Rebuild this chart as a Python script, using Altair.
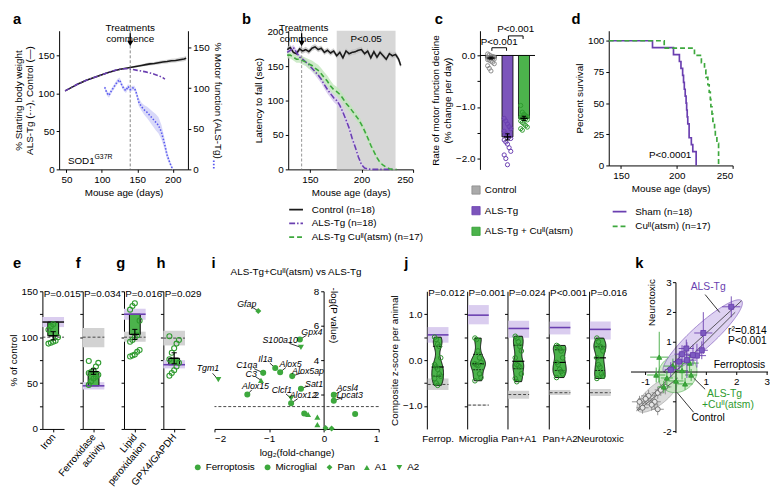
import altair as alt
import numpy as np
import pandas as pd

FONT = "Liberation Sans"
PURPLE = "#6a3fb0"
PURPLE_BAR = "#7c55bb"
PURPLE_BAND = "#dacdef"
GREEN = "#3da83d"
GREEN_DARK = "#2e9a2e"
GREEN_BAND = "#c2e6bb"
GREY_BAR = "#aaaaaa"
GREY_BAND = "#d2d2d2"
BLUE = "#5a5af0"
BLUE_BAND = "#cfcff7"
INK = "#1a1a1a"
CU = "Cu\u1d35\u1d35(atsm)"

# ---------------- panel a ----------------
a_ctrl_age = [48, 54, 60, 66, 72, 78, 84, 90, 96, 102, 108, 114, 120, 126, 132, 138, 144, 150, 156, 162, 168, 174, 180, 186, 192, 198, 204, 210, 216, 219]
a_ctrl_bw = [103, 106, 109, 112, 114.5, 117, 119, 121, 123, 125, 127, 128.5, 130, 131.5, 132.5, 133.5, 134.5, 135.5, 136.5, 137.5, 138.5, 139, 140, 141, 141.5, 142.5, 143, 144, 145, 146]
a_ctrl_sem = [0.8, 0.8, 0.8, 0.8, 0.8, 0.8, 0.8, 0.8, 0.8, 0.8, 0.8, 0.8, 0.8, 0.8, 0.8, 0.8, 1.2, 1.4, 1.6, 1.8, 2, 2.1, 2.2, 2.4, 2.5, 2.6, 2.7, 2.8, 3, 3]
a_als_age = [48, 54, 60, 66, 72, 78, 84, 90, 96, 102, 108, 114, 120, 126, 132, 138, 144, 150, 156, 162, 168, 174, 180, 186, 189]
a_als_bw = [103, 106, 109, 112, 114.5, 117, 119, 121, 123, 125, 127, 129, 130.5, 131.5, 132, 132, 131, 130, 129, 128, 126.5, 125, 123, 120.5, 118.5]
a_mot_age = [104, 107, 110, 113, 116, 119, 122, 125, 128, 131, 134, 137, 140, 143, 146, 149, 152, 156, 160, 164, 168, 172, 176, 180, 184, 188, 192, 196, 200]
a_mot = [101, 94, 91, 96, 100, 104, 108, 110, 104, 99, 97, 102, 98, 100, 100, 93, 83, 77, 73, 70, 66, 62, 58, 54, 46, 33, 18, 8, 0]
a_mot_sem = [2, 3, 3, 3, 3, 3, 3, 3, 3, 3, 3, 3, 3, 3, 3, 4, 5, 5, 6, 7, 8, 9, 10, 10, 9, 7, 5, 3, 1]

# ---------------- panel b ----------------
b_series = ["Control (n=18)", "ALS-Tg (n=18)", "ALS-Tg " + CU + " (n=17)"]
b_ctrl_age = [128, 131, 134, 137, 140, 143, 146, 149, 152, 155, 158, 161, 164, 167, 170, 173, 176, 179, 182, 185, 188, 191, 194, 197, 200, 203, 206, 209, 212, 215, 218, 221, 224, 227, 230, 233, 236, 238]
b_ctrl = [174, 177, 170, 168, 175, 172, 174, 171, 176, 178, 174, 176, 170, 173, 169, 172, 165, 170, 162, 172, 168, 170, 171, 173, 174, 168, 172, 162, 171, 163, 170, 165, 160, 168, 165, 167, 160, 151]
b_ctrl_sem = [4, 4, 4, 4, 4, 4, 4, 4, 4, 4, 4, 4, 4, 4, 4, 4, 4, 4, 4, 4, 4, 4, 4, 4, 4, 4, 4, 4, 4, 4, 4, 4, 4, 4, 4, 4, 4, 4]
b_als_age = [128, 131, 134, 137, 140, 143, 146, 149, 152, 155, 158, 161, 164, 167, 170, 173, 176, 179, 182, 185, 188, 191, 194, 197, 200, 203, 206, 210, 215, 220, 225, 230]
b_als = [170, 173, 177, 170, 163, 160, 156, 152, 147, 142, 137, 131, 123, 116, 110, 104, 100, 93, 83, 72, 60, 45, 32, 18, 7, 2, 0.5, 0, 0, 0, 0, 0]
b_als_sem = [4, 4, 4, 4, 4, 4, 5, 5, 5, 5, 6, 6, 6, 6, 6, 6, 6, 6, 6, 6, 5, 5, 4, 4, 3, 2, 1, 0.5, 0, 0, 0, 0]
b_cu_age = [128, 131, 134, 137, 140, 143, 146, 149, 152, 155, 158, 161, 164, 167, 170, 173, 176, 179, 182, 185, 188, 191, 194, 197, 200, 203, 206, 209, 212, 215, 218, 221, 224, 227, 230, 234]
b_cu = [166, 166, 163, 160, 160, 158, 156, 153, 151, 147, 144, 139, 133, 128, 121, 116, 113, 109, 103, 96, 91, 85, 79, 73, 65, 56, 46, 35, 26, 17, 10, 6, 3, 1, 0, 0]
b_cu_sem = [5, 5, 5, 5, 5, 6, 6, 7, 7, 8, 8, 8, 8, 8, 8, 7, 7, 7, 7, 7, 7, 6, 6, 6, 6, 6, 5, 5, 4, 3, 3, 2, 1, 1, 0, 0]

# ---------------- panel c ----------------
c_cats = ["Control", "ALS-Tg", "ALS-Tg + " + CU]
c_means = [-0.05, -1.58, -1.22]
c_sems = [0.02, 0.06, 0.04]
c_pts = [
    [0.03, 0.01, -0.01, -0.02, -0.03, -0.04, -0.05, -0.05, -0.06, -0.07, -0.08, -0.09, -0.11, -0.13, -0.16, -0.2, -0.25, -0.3],
    [-1.22, -1.27, -1.33, -1.38, -1.42, -1.47, -1.52, -1.55, -1.58, -1.61, -1.64, -1.68, -1.72, -1.79, -1.86, -1.93, -2.0, -2.12],
    [-0.97, -1.1, -1.14, -1.17, -1.19, -1.2, -1.21, -1.22, -1.23, -1.25, -1.27, -1.3, -1.33, -1.36, -1.39, -1.42, -1.45],
]

# ---------------- panel d ----------------
d_series = ["Sham (n=18)", CU + " (n=17)"]
d_sham_death = [178.2, 197, 202.3, 203.7, 205.2, 206, 206.7, 207.5, 208.3, 208.8, 209.3, 209.8, 211, 211, 213, 214.3, 217.3, 217.3]
d_cu_death = [188.7, 215.8, 222, 224.8, 226, 227.8, 229, 230, 230.5, 231.5, 232.3, 233.8, 234.5, 235.9, 237.4, 237.4, 237.4]

# ---------------- panels e-h ----------------
eh_letters = ["e", "f", "g", "h"]
eh_labels = [["Iron"], ["Ferroxidase", "activity"], ["Lipid", "peroxidation"], ["GPX4/GAPDH"]]
eh_p = ["P=0.015", "P=0.034", "P=0.016", "P=0.029"]
eh_purple = [116.5, 47, 125, 70]
eh_purple_lo = [111, 43, 119, 66]
eh_purple_hi = [122, 51, 131, 75]
eh_grey_lo = [None, 89, 95, 91]
eh_grey_hi = [None, 110, 106, 107]
eh_ctrl = [100, 100, 100, 99]
eh_bar_lo = [101.5, 47, 103, 70]
eh_bar_hi = [116.5, 62.5, 125, 77]
eh_mean = [101.5, 62.5, 103, 77]
eh_sem = [4.5, 3, 5.5, 6]
eh_pts = [
    [93, 94, 95, 96, 100, 108, 112, 114],
    [48, 52, 55, 57, 59, 61, 62, 64, 68, 72, 74],
    [79, 80, 81, 84, 86, 95, 97, 100, 102, 118, 130, 134, 137],
    [58, 61, 64, 68, 72, 76, 83, 88, 93, 97, 101],
]

# ---------------- panel i ----------------
i_cats = ["Ferroptosis", "Microglial", "Pan", "A1", "A2"]
i_names = ["Gfap", "Gpx4", "S100a10", "Il1a", "C1qa", "C3", "Alox5", "Alox5ap", "Tgm1", "Alox15", "Sat1", "Clcf1", "Alox12", "Acsl4", "Lpcat3", "", "", "", "", "", "", ""]
i_fc = [-1.2, -0.44, -0.42, -0.89, -1.11, -1.15, -0.8, -0.58, -1.93, -1.4, -0.42, -0.6, -0.6, 0.18, 0.18, -0.36, -0.29, -0.12, -0.12, 0.57, 0.03, 0.14]
i_p = [6.86, 5.2, 4.74, 3.54, 3.26, 2.83, 3.3, 3.07, 2.86, 2.0, 2.34, 1.77, 1.49, 1.98, 1.64, 0.9, 0.84, 0.69, 0.25, 0.87, 0.05, 0.03]
i_cat = ["Pan", "Ferroptosis", "A2", "Microglial", "Microglial", "A1", "Ferroptosis", "Ferroptosis", "A2", "Ferroptosis", "Ferroptosis", "A2", "Ferroptosis", "Ferroptosis", "Ferroptosis", "Ferroptosis", "A1", "A1", "A1", "Ferroptosis", "Pan", "Pan"]
i_lab_x = [-1.41, -0.22, -0.8, -1.07, -1.41, -1.33, -0.61, -0.29, -2.12, -1.25, -0.18, -0.77, -0.38, 0.43, 0.47]
i_lab_y = [7.26, 5.64, 5.16, 4.07, 3.7, 3.2, 3.79, 3.39, 3.54, 2.5, 2.63, 2.25, 1.98, 2.4, 1.98]

# ---------------- panel j ----------------
j_names = ["Ferrop.", "Microglia", "Pan+A1", "Pan+A2", "Neurotoxic"]
j_p = ["P=0.012", "P=0.001", "P=0.024", "P<0.001", "P=0.016"]
j_purple = [0.55, 0.98, 0.69, 0.71, 0.67]
j_purple_lo = [0.38, 0.78, 0.49, 0.56, 0.45]
j_purple_hi = [0.72, 1.2, 0.86, 0.84, 0.84]
j_grey = [-0.53, -0.98, -0.75, -0.71, -0.71]
j_grey_lo = [-0.65, -0.99, -0.84, -0.76, -0.78]
j_grey_hi = [-0.40, -0.97, -0.67, -0.65, -0.63]
j_vals = [
    [0.5, 0.45, 0.35, 0.3, 0.05, -0.1, -0.15, -0.2, -0.3, -0.35, -0.4, -0.5, -0.55],
    [0.48, 0.45, 0.2, 0.05, -0.05, -0.08, -0.1, -0.12, -0.3, -0.38, -0.45],
    [0.52, 0.48, 0.4, 0.3, 0.2, 0.05, -0.1, -0.12, -0.15, -0.3, -0.4, -0.47],
    [0.32, 0.3, 0.25, 0.2, 0.05, -0.05, -0.1, -0.2, -0.25, -0.3, -0.38],
    [0.48, 0.4, 0.3, 0.28, 0.2, 0.05, -0.1, -0.15, -0.3, -0.35, -0.4],
]

# ---------------- panel k ----------------
k_als_x = [1.82, 0.9, 0.34, 0.69, 0.85, 0.56, 0.36, 0.1, -0.17, 0.2]
k_als_y = [2.19, 1.31, 0.79, 0.55, 0.73, 0.57, 0.4, 0.35, 0.08, 0.6]
k_als_xe = [0.3, 0.3, 0.25, 0.3, 0.2, 0.25, 0.3, 0.2, 0.2, 0.25]
k_als_ye = [0.35, 0.7, 0.3, 0.4, 0.3, 0.35, 0.6, 0.3, 0.25, 0.3]
k_cu_x = [-0.55, -0.3, 0.45, 0.3, -0.1, 0.2, -0.4, 0.0, -0.65, 0.5]
k_cu_y = [0.5, -0.2, 0.3, -0.4, 0.2, 0.05, -0.5, -0.3, -0.1, -0.1]
k_cu_xe = [0.3, 0.2, 0.3, 0.25, 0.3, 0.2, 0.2, 0.25, 0.3, 0.2]
k_cu_ye = [0.85, 0.25, 0.3, 0.2, 0.25, 0.3, 0.2, 0.3, 0.25, 0.2]
k_ctrl_x = [-1.1, -0.9, -0.7, -0.6, -1.0, -0.8, -0.5, -0.35, -1.2, -0.6]
k_ctrl_y = [-1.2, -0.8, -1.0, -0.7, -0.9, -1.1, -0.6, -0.5, -1.0, -1.25]
k_ctrl_xe = [0.2, 0.25, 0.2, 0.2, 0.25, 0.2, 0.2, 0.2, 0.25, 0.2]
k_ctrl_ye = [0.2, 0.2, 0.25, 0.2, 0.2, 0.2, 0.2, 0.25, 0.2, 0.2]
k_ell_cx = [-0.6, 0.05, 0.88]
k_ell_cy = [-0.75, -0.05, 1.2]
k_ell_a = [0.85, 0.68, 1.75]
k_ell_b = [0.33, 0.6, 0.38]
k_ell_ang = [40, 45, 43]

RES = dict(color="independent", stroke="independent", strokeDash="independent", shape="independent", size="independent")


# ================= helpers =================
def Xq(field, sc, ax):
    return alt.X(field, type="quantitative", scale=sc, axis=ax)


def Yq(field, sc, ax):
    return alt.Y(field, type="quantitative", scale=sc, axis=ax)


def letter(t, dx, dy):
    return alt.Chart(pd.DataFrame({"t": [t]})).mark_text(
        fontSize=15, fontWeight="bold", align="left", baseline="alphabetic", font=FONT, color="black"
    ).encode(text="t:N", x=alt.value(dx), y=alt.value(dy))


def spacer(w):
    return alt.Chart(pd.DataFrame({"z": [0]})).mark_point(opacity=0).encode(
        x=alt.X("z:Q", axis=None), y=alt.Y("z:Q", axis=None)).properties(width=w, height=10)


def row(charts, gaps, lead=None):
    items = [] if lead is None else [spacer(lead)]
    items.append(charts[0])
    for c, g in zip(charts[1:], gaps):
        items += [spacer(g), c]
    return alt.hconcat(*items, spacing=0, bounds="flush").resolve_scale(**RES).resolve_legend(
        color="independent", strokeDash="independent", shape="independent", size="independent", stroke="independent")


def band_df(age, v, s):
    d = pd.DataFrame({"age": age, "v": v, "s": s})
    d["lo"] = d.v - d.s
    d["hi"] = d.v + d.s
    return d


TOP_DY = -7
BOT_DY = -24

# ================= panel a =================
sax = alt.Scale(domain=[39.6, 221.5], nice=False, zero=False)
aax = alt.Axis(values=[50, 100, 150, 200], title="Mouse age (days)", titlePadding=4)
sal = alt.Scale(domain=[0, 182], nice=False, zero=False)
aal = alt.Axis(values=[0, 50, 100, 150], orient="left",
               title=["% Starting body weight", "ALS-Tg (-\u00b7-), Control (\u2014)"], titlePadding=3)
sar = alt.Scale(domain=[0, 170.5], nice=False, zero=False)
aar = alt.Axis(values=[0, 50, 100, 150], orient="right", title="% Motor function (ALS-Tg)", titlePadding=3)

da_c = band_df(a_ctrl_age, a_ctrl_bw, a_ctrl_sem)
da_a = pd.DataFrame({"age": a_als_age, "v": a_als_bw})
da_m = band_df(a_mot_age, a_mot, a_mot_sem)
ann_a = pd.DataFrame({"age": [140], "v": [179.4], "t": ["Treatments\ncommence"], "v1": [178.8], "v2": [167.2], "vh": [165.4]})
sod = pd.DataFrame({"age": [52], "v": [11]})

left_a = alt.layer(
    alt.Chart(da_c).mark_area(color=GREY_BAND).encode(x=Xq("age", sax, aax), y=Yq("lo", sal, aal), y2="hi"),
    alt.Chart(da_c).mark_line(color=INK, strokeWidth=1.6).encode(x=Xq("age", sax, aax), y=Yq("v", sal, aal)),
    alt.Chart(da_a).mark_line(color=PURPLE, strokeWidth=1.6, strokeDash=[5, 2, 1.5, 2]).encode(x=Xq("age", sax, aax), y=Yq("v", sal, aal)),
    alt.Chart(ann_a).mark_rule(color="#666", strokeDash=[3, 2], strokeWidth=0.8).encode(x=Xq("age", sax, aax)),
    alt.Chart(ann_a).mark_text(lineBreak="\n", baseline="bottom", fontSize=10, lineHeight=11).encode(
        x=Xq("age", sax, aax), y=Yq("v", sal, aal), text="t"),
    alt.Chart(ann_a).mark_rule(color="black", strokeWidth=1.3).encode(x=Xq("age", sax, aax), y=Yq("v1", sal, aal), y2="v2"),
    alt.Chart(ann_a).mark_point(shape="triangle-down", filled=True, size=40, color="black", opacity=1).encode(
        x=Xq("age", sax, aax), y=Yq("vh", sal, aal)),
    alt.Chart(sod).mark_text(text="SOD1", align="left", baseline="middle", fontSize=10).encode(
        x=Xq("age", sax, aax), y=Yq("v", sal, aal)),
    alt.Chart(sod).mark_text(text="G37R", align="left", baseline="middle", fontSize=7, dx=27, dy=-4).encode(
        x=Xq("age", sax, aax), y=Yq("v", sal, aal)),
    letter("a", -47, TOP_DY),
)
glyph = pd.DataFrame({"age": [258], "v1": [1], "v2": [13]})
right_a = alt.layer(
    alt.Chart(da_m).mark_area(color=BLUE_BAND, opacity=0.8).encode(x=Xq("age", sax, aax), y=Yq("lo", sar, aar), y2="hi"),
    alt.Chart(da_m).mark_line(color=BLUE, strokeWidth=1.6, strokeDash=[1.5, 1.8]).encode(x=Xq("age", sax, aax), y=Yq("v", sar, aar)),
    alt.Chart(glyph).mark_rule(color=BLUE, strokeWidth=1.8, strokeDash=[1.5, 1.8]).encode(
        x=Xq("age", sax, aax), y=Yq("v1", sar, aar), y2="v2"),
)
panel_a = alt.layer(left_a, right_a).resolve_scale(y="independent").properties(width=131, height=141)

# ================= panel b =================
sbx = alt.Scale(domain=[129, 250], nice=False, zero=False)
abx = alt.Axis(values=[150, 200, 250], title="Mouse age (days)", titlePadding=4)
sby = alt.Scale(domain=[0, 201.4], nice=False, zero=False)
aby = alt.Axis(values=[0, 50, 100, 150, 200], title="Latency to fall (sec)", titlePadding=3)

db = []
for name, age, v, s in [(b_series[0], b_ctrl_age, b_ctrl, b_ctrl_sem), (b_series[1], b_als_age, b_als, b_als_sem),
                        (b_series[2], b_cu_age, b_cu, b_cu_sem)]:
    d = band_df(age, v, s)
    d["series"] = name
    db.append(d)
dball = pd.concat(db)
b_leg = alt.Legend(orient="none", legendX=0, legendY=174, title=None, symbolType="stroke", symbolSize=196,
                   symbolStrokeWidth=1.8, labelFontSize=10, rowPadding=1, labelOffset=8)
shade = pd.DataFrame({"a0": [176], "a1": [233], "age": [204.5], "v": [190], "t": ["P<0.05"]})
ann_b = pd.DataFrame({"age": [142], "agt": [144], "v": [198.5], "t": ["Treatments\ncommence"], "v1": [197.8], "v2": [185], "vh": [182.8]})
panel_b = alt.layer(
    alt.Chart(shade).mark_rect(color="#d7d7d7").encode(x=Xq("a0", sbx, abx), x2="a1"),
    alt.Chart(shade).mark_text(fontSize=10).encode(x=Xq("age", sbx, abx), y=Yq("v", sby, aby), text="t"),
    alt.Chart(db[0]).mark_area(color="#bdbdbd", opacity=0.7).encode(x=Xq("age", sbx, abx), y=Yq("lo", sby, aby), y2="hi"),
    alt.Chart(db[1]).mark_area(color=PURPLE_BAND, opacity=0.9).encode(x=Xq("age", sbx, abx), y=Yq("lo", sby, aby), y2="hi"),
    alt.Chart(db[2]).mark_area(color=GREEN_BAND, opacity=0.8).encode(x=Xq("age", sbx, abx), y=Yq("lo", sby, aby), y2="hi"),
    alt.Chart(ann_b).mark_rule(color="#888", strokeDash=[3, 2], strokeWidth=0.9).encode(x=Xq("age", sbx, abx)),
    alt.Chart(dball).mark_line(strokeWidth=1.6).encode(
        x=Xq("age", sbx, abx), y=Yq("v", sby, aby),
        color=alt.Color("series:N", scale=alt.Scale(domain=b_series, range=[INK, PURPLE, GREEN]), legend=b_leg),
        strokeDash=alt.StrokeDash("series:N", scale=alt.Scale(domain=b_series, range=[[1, 0], [6, 2, 1.5, 2], [5, 3]]), legend=b_leg),
    ),
    alt.Chart(ann_b).mark_text(lineBreak="\n", baseline="bottom", fontSize=10, lineHeight=11).encode(
        x=Xq("agt", sbx, abx), y=Yq("v", sby, aby), text="t"),
    alt.Chart(ann_b).mark_rule(color="black", strokeWidth=1.3).encode(x=Xq("age", sbx, abx), y=Yq("v1", sby, aby), y2="v2"),
    alt.Chart(ann_b).mark_point(shape="triangle-down", filled=True, size=40, color="black", opacity=1).encode(
        x=Xq("age", sbx, abx), y=Yq("vh", sby, aby)),
    letter("b", -47, TOP_DY),
).properties(width=127, height=141)

# ================= panel c =================
scx = alt.Scale(domain=[0, 3], nice=False, zero=False)
scy = alt.Scale(domain=[-2.21, 0.48], nice=False, zero=False)
acy = alt.Axis(values=[-2, -1.5, -1, -0.5, 0], labelExpr="datum.value % 1 == 0 ? datum.label : ''",
               title=["Rate of motor function decline", "(% change per day)"], titlePadding=3)
c_xpos = [0.6, 1.5, 2.4]
dcb = pd.DataFrame({"cat": c_cats, "x0": [x - 0.3 for x in c_xpos], "x1": [x + 0.3 for x in c_xpos],
                    "xm0": [x - 0.2 for x in c_xpos], "xm1": [x + 0.2 for x in c_xpos],
                    "xc0": [x - 0.12 for x in c_xpos], "xc1": [x + 0.12 for x in c_xpos], "xc": c_xpos,
                    "zero": [0, 0, 0], "mean": c_means,
                    "elo": [m - s for m, s in zip(c_means, c_sems)], "ehi": [m + s for m, s in zip(c_means, c_sems)]})
rows = []
for ci, pts in enumerate(c_pts):
    for k, v in enumerate(pts):
        rows.append({"cat": c_cats[ci], "x": c_xpos[ci] + ((k % 5) - 2) * 0.09, "v": v})
dcp = pd.DataFrame(rows)
c_leg = alt.Legend(orient="none", legendX=-9, legendY=157, title=None, symbolType="square", symbolSize=70,
                   symbolStrokeColor="black", symbolStrokeWidth=0.8, rowPadding=9, labelOffset=4, labelFontSize=10)
brk_h = pd.DataFrame({"x0": [0.65, 1.55], "x1": [1.45, 2.35], "y": [0.15, 0.38]})
brk_v = pd.DataFrame({"x": [0.65, 1.45, 1.55, 2.35], "y0": [0.15, 0.15, 0.38, 0.38], "y1": [0.09, 0.09, 0.32, 0.32]})
brk_t = pd.DataFrame({"x": [1.05, 1.95], "y": [0.27, 0.51], "t": ["P<0.001", "P<0.001"]})
panel_c = alt.layer(
    alt.Chart(pd.DataFrame({"y": [0]})).mark_rule(color="black", strokeWidth=1).encode(y=Yq("y", scy, acy)),
    alt.Chart(dcb).mark_bar(stroke="black", strokeWidth=0.8).encode(
        x=Xq("x0", scx, None), x2="x1", y=Yq("zero", scy, acy), y2="mean",
        color=alt.Color("cat:N", scale=alt.Scale(domain=c_cats, range=[GREY_BAR, PURPLE_BAR, "#4cb34c"]), legend=c_leg)),
    alt.Chart(dcp).mark_point(shape="circle", filled=False, size=18, strokeWidth=1, opacity=1).encode(
        x=Xq("x", scx, None), y=Yq("v", scy, acy),
        stroke=alt.Stroke("cat:N", scale=alt.Scale(domain=c_cats, range=["#8a8a8a", PURPLE, GREEN_DARK]), legend=None)),
    alt.Chart(dcb).mark_rule(color="black", strokeWidth=1.2).encode(x=Xq("xc", scx, None), y=Yq("elo", scy, acy), y2="ehi"),
    alt.Chart(dcb).mark_rule(color="black", strokeWidth=1.4).encode(x=Xq("xm0", scx, None), x2="xm1", y=Yq("mean", scy, acy)),
    alt.Chart(dcb).mark_rule(color="black", strokeWidth=1).encode(x=Xq("xc0", scx, None), x2="xc1", y=Yq("elo", scy, acy)),
    alt.Chart(dcb).mark_rule(color="black", strokeWidth=1).encode(x=Xq("xc0", scx, None), x2="xc1", y=Yq("ehi", scy, acy)),
    alt.Chart(brk_h).mark_rule(color="black", strokeWidth=1).encode(x=Xq("x0", scx, None), x2="x1", y=Yq("y", scy, acy)),
    alt.Chart(brk_v).mark_rule(color="black", strokeWidth=1).encode(x=Xq("x", scx, None), y=Yq("y0", scy, acy), y2="y1"),
    alt.Chart(brk_t).mark_text(fontSize=10, baseline="middle").encode(x=Xq("x", scx, None), y=Yq("y", scy, acy), text="t"),
    letter("c", -46, TOP_DY),
).properties(width=56, height=141)

# ================= panel d =================
sdx = alt.Scale(domain=[139, 250], nice=False, zero=False)
adx = alt.Axis(values=[150, 200, 250], title="Mouse age (days)", titlePadding=4)
sdy = alt.Scale(domain=[0, 108], nice=False, zero=False)
ady = alt.Axis(values=[0, 25, 50, 75, 100], title="Percent survival", titlePadding=3)
rows = []
for name, deaths in [(d_series[0], d_sham_death), (d_series[1], d_cu_death)]:
    n = len(deaths)
    rows.append({"series": name, "age": 139, "s": 100.0, "o": 0})
    for k, dd in enumerate(sorted(deaths), 1):
        rows.append({"series": name, "age": dd, "s": 100.0 * (1 - k / n), "o": k})
ddf = pd.DataFrame(rows)
d_leg = alt.Legend(orient="none", legendX=3, legendY=176, title=None, symbolType="stroke", symbolSize=196,
                   symbolStrokeWidth=1.8, labelFontSize=10, rowPadding=2, labelOffset=8)
panel_d = alt.layer(
    alt.Chart(ddf).mark_line(interpolate="step-after", strokeWidth=1.7).encode(
        x=Xq("age", sdx, adx), y=Yq("s", sdy, ady), order="o:Q",
        color=alt.Color("series:N", scale=alt.Scale(domain=d_series, range=[PURPLE, GREEN]), legend=d_leg),
        strokeDash=alt.StrokeDash("series:N", scale=alt.Scale(domain=d_series, range=[[1, 0], [5, 3]]), legend=d_leg)),
    alt.Chart(pd.DataFrame({"age": [194], "s": [8], "t": ["P<0.0001"]})).mark_text(fontSize=10).encode(
        x=Xq("age", sdx, adx), y=Yq("s", sdy, ady), text="t"),
    letter("d", -38, TOP_DY),
).properties(width=126, height=137)


# ================= panels e-h =================
def bar_panel(i, dx):
    sx = alt.Scale(domain=[0, 1], nice=False, zero=False)
    lab = "[" + ",".join("'" + s + "'" for s in eh_labels[i]) + "]"
    ax = alt.Axis(values=[0.5], labelExpr=lab, labelAngle=310, labelAlign="right", labelBaseline="middle",
                  title=None, tickSize=3, labelPadding=3)
    sy = alt.Scale(domain=[0, 150], nice=False, zero=False)
    if i == 0:
        ay = alt.Axis(values=[0, 25, 50, 75, 100, 125, 150], labelExpr="datum.value % 50 == 0 ? datum.label : ''",
                      title="% of control", tickSize=3, titlePadding=3)
    else:
        ay = alt.Axis(values=[0, 25, 50, 75, 100, 125, 150], labels=False, title=None, tickSize=3)
    base = pd.DataFrame({"x0": [0], "x1": [1], "pl": [eh_purple_lo[i]], "ph": [eh_purple_hi[i]], "pv": [eh_purple[i]],
                         "cv": [eh_ctrl[i]], "b0": [eh_bar_lo[i]], "b1": [eh_bar_hi[i]], "m": [eh_mean[i]],
                         "e0": [eh_mean[i] - eh_sem[i]], "e1": [eh_mean[i] + eh_sem[i]],
                         "bx0": [0.25], "bx1": [0.75], "xc": [0.5], "mx0": [0.3], "mx1": [0.7], "cx0": [0.38], "cx1": [0.62],
                         "tx": [0.06], "ty": [147.5], "t": [eh_p[i]]})
    pts = pd.DataFrame({"v": eh_pts[i], "x": [0.5 + ((k % 5) - 2) * 0.11 for k in range(len(eh_pts[i]))]})
    layers = []
    if eh_grey_lo[i] is not None:
        gb = pd.DataFrame({"x0": [0], "x1": [1], "gl": [eh_grey_lo[i]], "gh": [eh_grey_hi[i]]})
        layers.append(alt.Chart(gb).mark_rect(color=GREY_BAND).encode(x=Xq("x0", sx, ax), x2="x1", y=Yq("gl", sy, ay), y2="gh"))
    layers += [
        alt.Chart(base).mark_rect(color=PURPLE_BAND).encode(x=Xq("x0", sx, ax), x2="x1", y=Yq("pl", sy, ay), y2="ph"),
        alt.Chart(base).mark_rule(color="#444", strokeDash=[3, 2], strokeWidth=1).encode(x=Xq("x0", sx, ax), x2="x1", y=Yq("cv", sy, ay)),
        alt.Chart(base).mark_rect(color="#4cb34c", stroke="black", strokeWidth=1).encode(
            x=Xq("bx0", sx, ax), x2="bx1", y=Yq("b0", sy, ay), y2="b1"),
        alt.Chart(base).mark_rule(color=PURPLE if i > 0 else INK, strokeWidth=1.6).encode(x=Xq("x0", sx, ax), x2="x1", y=Yq("pv", sy, ay)),
        alt.Chart(pts).mark_point(shape="circle", filled=False, size=26, strokeWidth=1.1, color=GREEN_DARK, opacity=1).encode(
            x=Xq("x", sx, ax), y=Yq("v", sy, ay)),
        alt.Chart(base).mark_rule(color="black", strokeWidth=1.2).encode(x=Xq("xc", sx, ax), y=Yq("e0", sy, ay), y2="e1"),
        alt.Chart(base).mark_rule(color="black", strokeWidth=1.4).encode(x=Xq("mx0", sx, ax), x2="mx1", y=Yq("m", sy, ay)),
        alt.Chart(base).mark_rule(color="black", strokeWidth=1).encode(x=Xq("cx0", sx, ax), x2="cx1", y=Yq("e0", sy, ay)),
        alt.Chart(base).mark_rule(color="black", strokeWidth=1).encode(x=Xq("cx0", sx, ax), x2="cx1", y=Yq("e1", sy, ay)),
        alt.Chart(base).mark_text(align="left", baseline="middle", fontSize=10).encode(x=Xq("tx", sx, ax), y=Yq("ty", sy, ay), text="t"),
        letter(eh_letters[i], dx, BOT_DY),
    ]
    return alt.layer(*layers).properties(width=22, height=140)


panel_e = bar_panel(0, -30)
panel_f = bar_panel(1, -7)
panel_g = bar_panel(2, -8)
panel_h = bar_panel(3, -7)

# ================= panel i =================
six = alt.Scale(domain=[-2, 1], nice=False, zero=False)
aix = alt.Axis(values=[-2, -1, 0, 1], title="log\u2082(fold-change)", tickSize=3, titlePadding=4)
siy = alt.Scale(domain=[0, 8], nice=False, zero=False)
aiy = alt.Axis(orient="left", offset=-111, values=[2, 4, 6, 8], title="-log(P value)", titleAngle=90, titleX=10,
               titleY=24, titleAlign="center", titleBaseline="middle", tickSize=3)
dip = pd.DataFrame({"fc": i_fc, "p": i_p, "cat": i_cat})
nl = len(i_lab_x)
dil = pd.DataFrame({"name": i_names[:nl], "fc": i_fc[:nl], "p": i_p[:nl], "lx": i_lab_x, "ly": i_lab_y})
dil["ex"] = dil.fc + 0.55 * (dil.lx - dil.fc)
dil["ey"] = dil.p + 0.55 * (dil.ly - dil.p)
i_leg = alt.Legend(orient="none", direction="horizontal", columns=5, legendX=-22, legendY=174, title=None,
                   symbolFillColor=GREEN, symbolStrokeColor=GREEN, symbolSize=35, labelFontSize=10,
                   columnPadding=6, labelOffset=3)
panel_i = alt.layer(
    alt.Chart(pd.DataFrame({"p": [1.3]})).mark_rule(color="#333", strokeDash=[3, 2], strokeWidth=0.9).encode(y=Yq("p", siy, aiy)),
    alt.Chart(dil).mark_rule(color="black", strokeWidth=0.8).encode(x=Xq("fc", six, aix), y=Yq("p", siy, aiy), x2="ex", y2="ey"),
    alt.Chart(dip).mark_point(filled=True, color=GREEN, opacity=1, size=38).encode(
        x=Xq("fc", six, aix), y=Yq("p", siy, aiy),
        shape=alt.Shape("cat:N", scale=alt.Scale(domain=i_cats, range=["circle", "circle", "diamond", "triangle-up", "triangle-down"]), legend=i_leg)),
    alt.Chart(dil).mark_text(fontStyle="italic", fontSize=9).encode(x=Xq("lx", six, aix), y=Yq("ly", siy, aiy), text="name"),
    alt.Chart(pd.DataFrame({"x": [-0.51], "y": [9.09], "t": ["ALS-Tg+" + CU + " vs ALS-Tg"]})).mark_text(fontSize=10).encode(
        x=Xq("x", six, aix), y=Yq("y", siy, aiy), text="t"),
    letter("i", -3, BOT_DY),
).properties(width=167, height=140)


# ================= panel j =================
def violin_panel(i, dx):
    sx = alt.Scale(domain=[0, 1], nice=False, zero=False)
    ax = alt.Axis(title=j_names[i], labels=False, ticks=False, domain=False, titlePadding=5, titleFontSize=10)
    sy = alt.Scale(domain=[-1.5, 1.5], nice=False, zero=False)
    if i == 0:
        ay = alt.Axis(values=[-1, -0.5, 0, 0.5, 1], labelExpr="datum.value % 1 == 0 ? datum.label : ''",
                      title="Composite z-score per animal", tickSize=3, titlePadding=3)
    else:
        ay = alt.Axis(values=[-1, -0.5, 0, 0.5, 1], labels=False, title=None, tickSize=3)
    vals = j_vals[i]
    base = pd.DataFrame({"x0": [0.04], "x1": [1], "pl": [j_purple_lo[i]], "ph": [j_purple_hi[i]], "pv": [j_purple[i]],
                         "gl": [j_grey_lo[i]], "gh": [j_grey_hi[i]], "gv": [j_grey[i]],
                         "tx": [0.06], "ty": [1.46], "t": [j_p[i]]})
    dv = pd.DataFrame({"v": vals})
    pts = pd.DataFrame({"v": vals, "x": [0.5 + ((k % 5) - 2) * 0.07 for k in range(len(vals))]})
    layers = [
        alt.Chart(base).mark_rect(color=PURPLE_BAND).encode(x=Xq("x0", sx, ax), x2="x1", y=Yq("pl", sy, ay), y2="ph"),
        alt.Chart(base).mark_rule(color=PURPLE, strokeWidth=1.6).encode(x=Xq("x0", sx, ax), x2="x1", y=Yq("pv", sy, ay)),
        alt.Chart(base).mark_rect(color=GREY_BAND).encode(x=Xq("x0", sx, ax), x2="x1", y=Yq("gl", sy, ay), y2="gh"),
        alt.Chart(base).mark_rule(color="#444", strokeDash=[3, 2], strokeWidth=1).encode(x=Xq("x0", sx, ax), x2="x1", y=Yq("gv", sy, ay)),
        alt.Chart(dv).transform_density("v", as_=["v", "dens"], extent=[min(vals), max(vals)], bandwidth=0.12, steps=60)
        .transform_calculate(lo="0.5 - datum.dens*0.24", hi="0.5 + datum.dens*0.24")
        .mark_area(orient="horizontal", color="#4cb34c", stroke="black", strokeWidth=0.9)
        .encode(y=Yq("v", sy, ay), x=Xq("lo", sx, ax), x2="hi"),
        alt.Chart(dv).transform_aggregate(med="median(v)")
        .transform_calculate(a="0.22", b="0.78")
        .mark_rule(color="black", strokeWidth=1.2).encode(x=Xq("a", sx, ax), x2="b", y=Yq("med", sy, ay)),
        alt.Chart(dv).transform_aggregate(q1="q1(v)")
        .transform_calculate(a="0.28", b="0.72")
        .mark_rule(color="black", strokeWidth=0.8, strokeDash=[2, 1]).encode(x=Xq("a", sx, ax), x2="b", y=Yq("q1", sy, ay)),
        alt.Chart(dv).transform_aggregate(q3="q3(v)")
        .transform_calculate(a="0.28", b="0.72")
        .mark_rule(color="black", strokeWidth=0.8, strokeDash=[2, 1]).encode(x=Xq("a", sx, ax), x2="b", y=Yq("q3", sy, ay)),
        alt.Chart(pts).mark_point(shape="circle", filled=False, size=22, strokeWidth=1, color="#2a8f2a", opacity=1).encode(
            x=Xq("x", sx, ax), y=Yq("v", sy, ay)),
        alt.Chart(base).mark_text(align="left", baseline="middle", fontSize=10).encode(x=Xq("tx", sx, ax), y=Yq("ty", sy, ay), text="t"),
    ]
    if dx is not None:
        layers.append(letter("j", dx, BOT_DY))
    return alt.layer(*layers).properties(width=22, height=140)


panel_j = [violin_panel(0, -23)] + [violin_panel(i, None) for i in range(1, 5)]

# ================= panel k =================
skx = alt.Scale(domain=[-1.5, 3.03], nice=False, zero=False)
sky = alt.Scale(domain=[-2.01, 2.71], nice=False, zero=False)


def KX(f):
    return alt.X(f, type="quantitative", scale=skx, axis=None)


def KY(f):
    return alt.Y(f, type="quantitative", scale=sky, axis=None)


def ellipse_df(cx, cy, a, b, ang):
    t = np.deg2rad(ang)
    c, s = np.cos(t), np.sin(t)
    w = np.sqrt((a * c) ** 2 + (b * s) ** 2)
    dx = -w * np.cos(np.linspace(0, np.pi, 90))
    A = s * s / a ** 2 + c * c / b ** 2
    B = 2 * dx * s * c * (1 / a ** 2 - 1 / b ** 2)
    C = dx * dx * (c * c / a ** 2 + s * s / b ** 2) - 1
    disc = np.sqrt(np.clip(B * B - 4 * A * C, 0, None))
    return pd.DataFrame({"x": cx + dx, "y0": cy + (-B - disc) / (2 * A), "y1": cy + (-B + disc) / (2 * A)})


ell_styles = [("#cfcfcf", "#8a8a8a"), (GREEN_BAND, GREEN), ("#d3c3ee", PURPLE)]
k_layers = []
for j in range(3):
    ed = ellipse_df(k_ell_cx[j], k_ell_cy[j], k_ell_a[j], k_ell_b[j], k_ell_ang[j])
    k_layers.append(alt.Chart(ed).mark_area(color=ell_styles[j][0], opacity=0.75, stroke=ell_styles[j][1], strokeWidth=0.8)
                    .encode(x=KX("x"), y=KY("y0"), y2="y1"))
lx0, ly0, lx1, ly1 = [], [], [], []
for j in [0, 2]:
    t = np.deg2rad(k_ell_ang[j])
    lx0.append(k_ell_cx[j] - k_ell_a[j] * np.cos(t)); ly0.append(k_ell_cy[j] - k_ell_a[j] * np.sin(t))
    lx1.append(k_ell_cx[j] + k_ell_a[j] * np.cos(t)); ly1.append(k_ell_cy[j] + k_ell_a[j] * np.sin(t))
all_x = k_als_x + k_cu_x + k_ctrl_x
all_y = k_als_y + k_cu_y + k_ctrl_y
slope, icpt = np.polyfit(all_x, all_y, 1)
lx0.append(-1.3); ly0.append(icpt - 1.3 * slope); lx1.append(1.95); ly1.append(icpt + 1.95 * slope)
k_layers.append(alt.Chart(pd.DataFrame({"x0": lx0, "y0": ly0, "x1": lx1, "y1": ly1})).mark_rule(color="#333", strokeWidth=0.8)
                .encode(x=KX("x0"), y=KY("y0"), x2="x1", y2="y1"))
k_layers.append(alt.Chart(pd.DataFrame({"x0": [-1.48], "x1": [3.03], "y": [0]})).mark_rule(color="black", strokeWidth=1)
                .encode(x=KX("x0"), x2="x1", y=KY("y")))
k_layers.append(alt.Chart(pd.DataFrame({"x": [0], "y0": [-2.05], "y1": [3.0]})).mark_rule(color="black", strokeWidth=1)
                .encode(x=KX("x"), y=KY("y0"), y2="y1"))
xt = pd.DataFrame({"x": [-1, 1, 2, 3], "y0": [0, 0, 0, 0], "y1": [-0.1, -0.1, -0.1, -0.1], "yl": [-0.33, -0.33, -0.33, -0.33],
                   "t": ["-1", "1", "2", "3"]})
yt = pd.DataFrame({"y": [-2, -1, 1, 2, 3], "x0": [0, 0, 0, 0, 0], "x1": [-0.1, -0.1, -0.1, -0.1, -0.1],
                   "xl": [-0.14, -0.14, -0.14, -0.14, -0.14], "t": ["-2", "-1", "1", "2", "3"]})
k_layers.append(alt.Chart(xt).mark_rule(color="black").encode(x=KX("x"), y=KY("y0"), y2="y1"))
k_layers.append(alt.Chart(xt).mark_text(fontSize=10).encode(x=KX("x"), y=KY("yl"), text="t"))
k_layers.append(alt.Chart(yt).mark_rule(color="black").encode(y=KY("y"), x=KX("x0"), x2="x1"))
k_layers.append(alt.Chart(yt[yt.t != "-1"]).mark_text(fontSize=10, align="right").encode(y=KY("y"), x=KX("xl"), text="t"))


def err_layers(xs, ys, xe, ye, col, shape, fill, stroke):
    d = pd.DataFrame({"x": xs, "y": ys, "xe": xe, "ye": ye})
    d["x0"] = d.x - d.xe; d["x1"] = d.x + d.xe; d["y0"] = d.y - d.ye; d["y1"] = d.y + d.ye
    return [
        alt.Chart(d).mark_rule(color=col, strokeWidth=0.9).encode(x=KX("x0"), x2="x1", y=KY("y")),
        alt.Chart(d).mark_rule(color=col, strokeWidth=0.9).encode(x=KX("x"), y=KY("y0"), y2="y1"),
        alt.Chart(d).mark_point(shape=shape, filled=True, fill=fill, stroke=stroke, strokeWidth=0.9, size=26, opacity=1)
        .encode(x=KX("x"), y=KY("y")),
    ]


k_layers += err_layers(k_ctrl_x, k_ctrl_y, k_ctrl_xe, k_ctrl_ye, "#888", "circle", "#e6e6e6", "#666")
k_layers += err_layers(k_cu_x, k_cu_y, k_cu_xe, k_cu_ye, GREEN, "triangle-up", GREEN, GREEN_DARK)
k_layers += err_layers(k_als_x, k_als_y, k_als_xe, k_als_ye, PURPLE, "square", "#7d5bc0", PURPLE)
lead = pd.DataFrame({"x0": [0.96, 0.58, 0.04], "y0": [2.6, -0.2, -0.69], "x1": [1.44, 0.96, 0.58], "y1": [2.0, -0.58, -1.35]})
k_layers.append(alt.Chart(lead).mark_rule(color="black", strokeWidth=0.8).encode(x=KX("x0"), y=KY("y0"), x2="x1", y2="y1"))
ktxt = pd.DataFrame({
    "x": [1.06, 2.35, 2.35, 1.6, 1.71, 1.06, 2.09],
    "y": [2.86, 1.38, 1.03, -0.75, -1.1, -1.54, 0.22],
    "t": ["ALS-Tg", "r\u00b2=0.814", "P<0.001", "ALS-Tg", "+" + CU, "Control", "Ferroptosis"],
    "c": ["p", "k", "k", "g", "g", "k", "k"],
})
k_layers.append(alt.Chart(ktxt).mark_text(fontSize=10.5).encode(
    x=KX("x"), y=KY("y"), text="t",
    color=alt.Color("c:N", scale=alt.Scale(domain=["p", "g", "k"], range=[PURPLE, "#2e9a2e", "black"]), legend=None)))
k_layers.append(alt.Chart(pd.DataFrame({"x": [-0.8], "y": [2.33], "t": ["Neurotoxic"]})).mark_text(fontSize=10, angle=270).encode(
    x=KX("x"), y=KY("y"), text="t"))
k_layers.append(letter("k", 5, BOT_DY))
panel_k = alt.layer(*k_layers).properties(width=140, height=143)

# ================= layout =================
row1 = row([panel_a, panel_b, panel_c, panel_d], [102, 68, 75], lead=17)
row2 = row([panel_e, panel_f, panel_g, panel_h, panel_i] + panel_j + [panel_k], [19, 20, 18, 30, 49, 19, 19, 20, 19, 20])
chart = alt.vconcat(row1, row2, spacing=265, bounds="flush", padding=0).resolve_scale(**RES).resolve_legend(
    color="independent", strokeDash="independent", shape="independent", size="independent", stroke="independent"
).configure_view(stroke=None).configure_axis(
    labelFont=FONT, titleFont=FONT, labelFontSize=10, titleFontSize=10, labelColor="black", titleColor="black",
    domainColor="black", tickColor="black", grid=False, titleFontWeight="normal", tickSize=3, labelPadding=2,
).configure_text(font=FONT, fontSize=10).configure_legend(labelFont=FONT, labelFontSize=10, labelColor="black").configure_title(font=FONT)

chart.save("out.html", embed_options={"renderer": "svg", "actions": False})
